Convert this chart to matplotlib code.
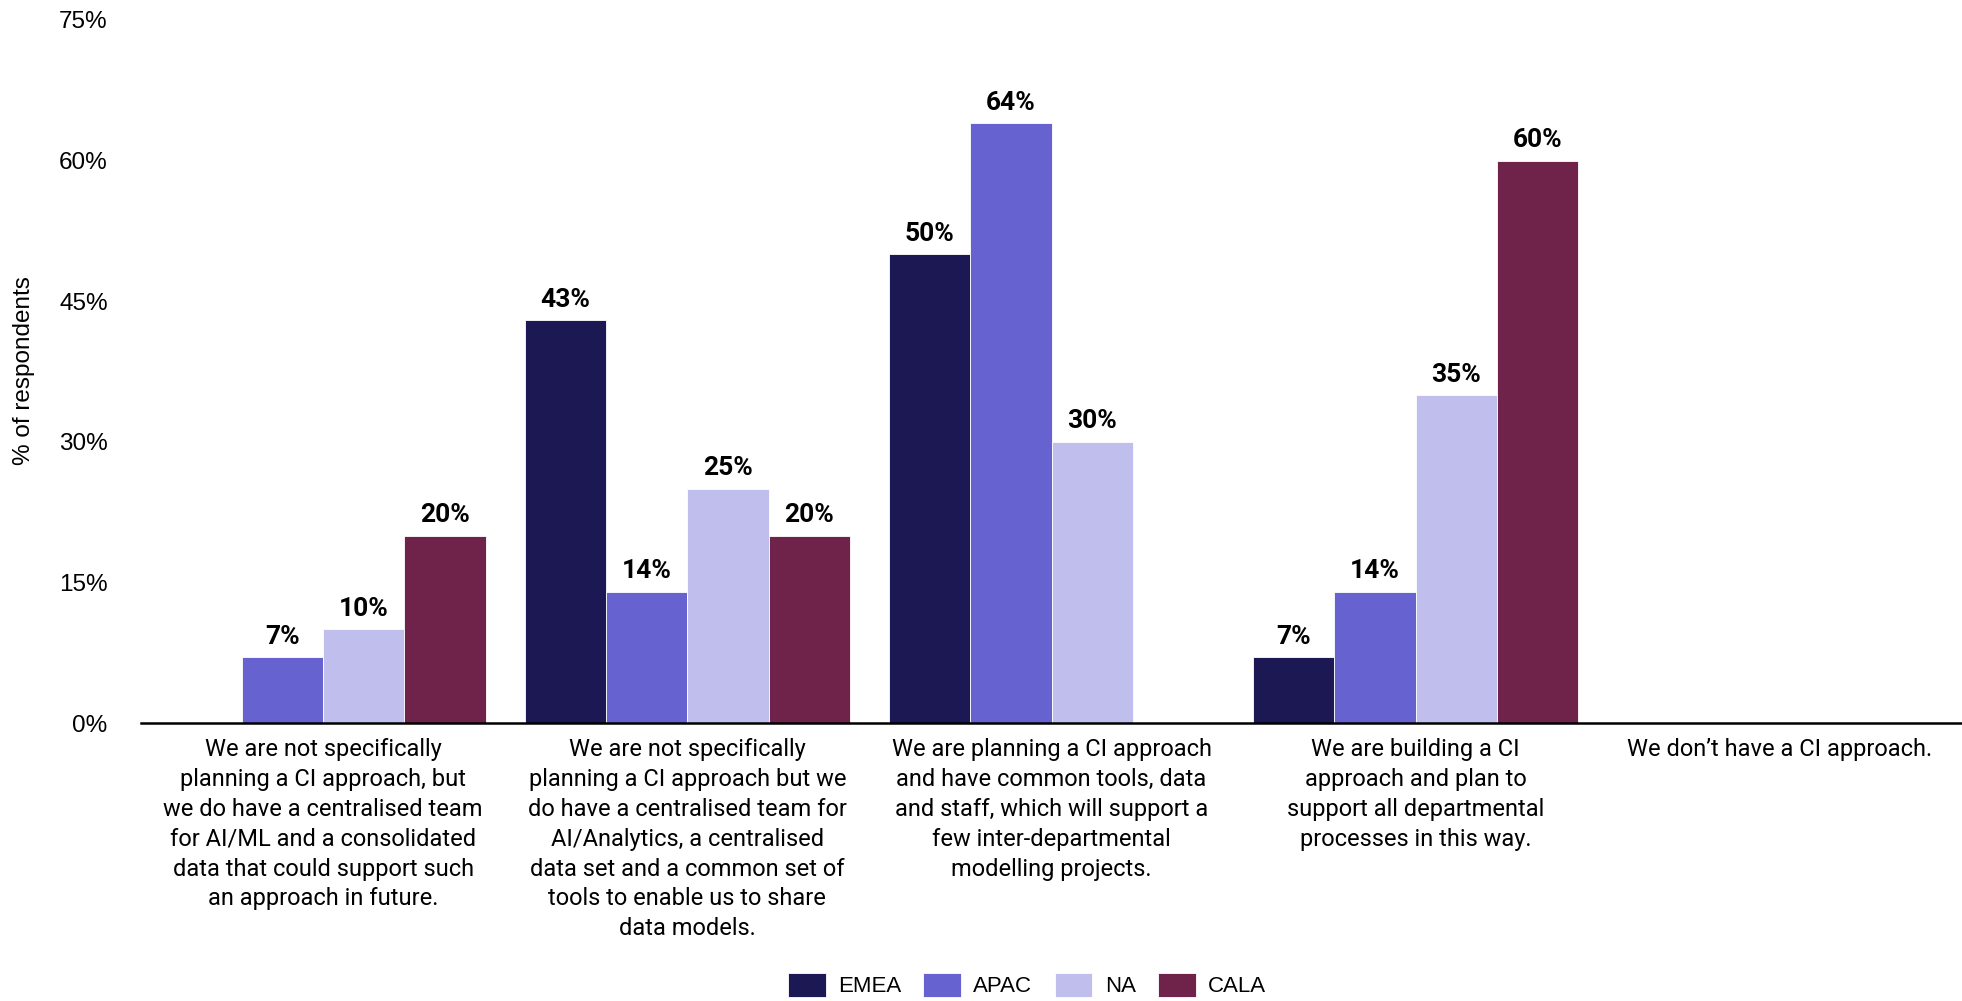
import matplotlib.pyplot as plt
import numpy as np

plt.rcParams['font.family'] = ['Roboto', 'DejaVu Sans']
ARIAL = ['Liberation Sans', 'DejaVu Sans']

# respuestas por region (% de encuestados)
categorias = [
    "We are not specifically\nplanning a CI approach, but\nwe do have a centralised team\nfor AI/ML and a consolidated\ndata that could support such\nan approach in future.",
    "We are not specifically\nplanning a CI approach but we\ndo have a centralised team for\nAI/Analytics, a centralised\ndata set and a common set of\ntools to enable us to share\ndata models.",
    "We are planning a CI approach\nand have common tools, data\nand staff, which will support a\nfew inter-departmental\nmodelling projects.",
    "We are building a CI\napproach and plan to\nsupport all departmental\nprocesses in this way.",
    "We don\u2019t have a CI approach.",
]
regiones = ['EMEA', 'APAC', 'NA', 'CALA']
emea = [0, 43, 50, 7, 0]
apac = [7, 14, 64, 14, 0]
na = [10, 25, 30, 35, 0]
cala = [20, 20, 0, 60, 0]
colores = ['#1b1854', '#6663d1', '#c0beec', '#6f234b']
yticks = [0, 15, 30, 45, 60, 75]


def main():
    fig = plt.figure(figsize=(19.62, 10.01), dpi=100)
    ax = fig.add_axes([141/1962, 1 - 723/1001, 1 - 141/1962, (723 - 20)/1001])

    x = np.arange(len(categorias))
    ancho = 0.2235
    series = [emea, apac, na, cala]
    for i, (vals, reg, col) in enumerate(zip(series, regiones, colores)):
        pos = x + (i - 1.5) * ancho
        barras = ax.bar(pos, vals, ancho, color=col, label=reg,
                        edgecolor='white', linewidth=0.6)
        # etiqueta solo en las barras con valor
        for b, v in zip(barras, vals):
            if v > 0:
                ax.annotate(f'{v}%', (b.get_x() + b.get_width()/2, v),
                            xytext=(0, 6), textcoords='offset points',
                            ha='center', va='bottom', fontsize=19,
                            fontweight='bold', color='black')

    ax.set_xlim(-0.5, 4.5)
    ax.set_ylim(0, 75)
    ax.set_yticks(yticks)
    ax.set_yticklabels([f'{t}%' for t in yticks], fontsize=17.5, family=ARIAL)
    ax.set_xticks(x)
    ax.set_xticklabels(categorias, fontsize=17, linespacing=1.38)
    ax.tick_params(axis='y', length=0, pad=24)
    ax.tick_params(axis='x', length=0, pad=11)
    for s in ['top', 'right', 'left']:
        ax.spines[s].set_visible(False)
    ax.spines['bottom'].set_linewidth(1.8)

    fig.text(24/1962, 1 - 371/1001, '% of respondents', rotation=90,
             ha='center', va='center', fontsize=17.5, family=ARIAL)

    fig.legend(loc='center', bbox_to_anchor=(1027/1962, 1 - 985/1001),
               ncol=4, frameon=False, prop={'family': ARIAL, 'size': 16},
               handlelength=1.7, handleheight=1.3, handletextpad=0.55,
               columnspacing=1.0)

    fig.savefig('out.png', dpi=100)


if __name__ == "__main__":
    main()
